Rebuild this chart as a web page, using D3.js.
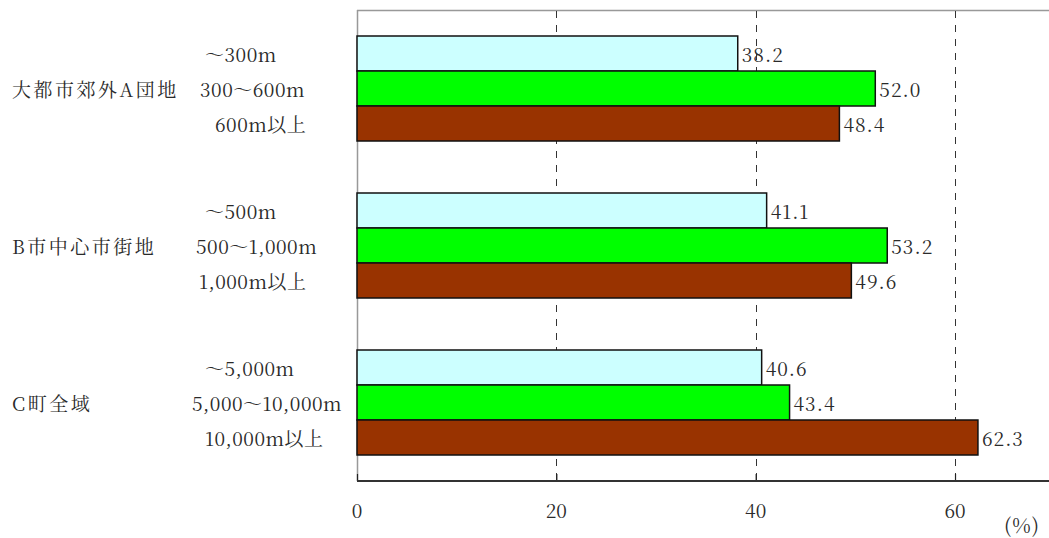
<!DOCTYPE html>
<html lang="ja">
<head>
<meta charset="utf-8">
<script src="https://cdn.jsdelivr.net/npm/d3@7"></script>
<style>
  html, body { margin: 0; padding: 0; background: #fff; }
  svg { display: block; }
</style>
</head>
<body>
<svg id="chart" width="1049" height="538"></svg>
<script>
// Regions surveyed
const groups = ["大都市郊外A団地", "B市中心市街地", "C町全域"];

// Distance bands within each region (near / middle / far)
const bandLabels = [
  ["～300m", "300～600m", "600m以上"],
  ["～500m", "500～1,000m", "1,000m以上"],
  ["～5,000m", "5,000～10,000m", "10,000m以上"]
];

// Series values (%), one array per distance band
const nearValues = [38.2, 41.1, 40.6];
const midValues = [52.0, 53.2, 43.4];
const farValues = [48.4, 49.6, 62.3];

const xTicks = [0, 20, 40, 60];
const unitLabel = "(%)";

// Layout
const width = 1049, height = 538;
const plot = { left: 357, top: 10, bottom: 481 };
const seriesColors = ["#ccffff", "#00ff00", "#993300"];
const FONT = "'Noto Serif CJK JP', 'Liberation Serif', serif";
// left edge of each distance label, per region
const bandLabelX = [[205, 200, 215], [205, 196, 199], [205, 192, 205]];

const series = [nearValues, midValues, farValues];

const svg = d3.select("#chart");

const x = d3.scaleLinear().domain([0, 70]).range([plot.left, plot.left + 70 * 9.967]);

const y = d3.scaleBand().domain(groups).range([plot.top, plot.bottom]).padding(0);
const inner = d3.scaleBand().domain([0, 1, 2])
  .range([26, y.bandwidth() - 26]).padding(0);

function styleText(sel, size, spacing) {
  return sel.style("font-family", FONT)
    .style("font-size", size + "px")
    .style("letter-spacing", spacing + "px")
    .attr("fill", "#2a2a2a");
}

// Frame: top and left edges
svg.append("line")
  .attr("x1", plot.left).attr("x2", width)
  .attr("y1", plot.top + 0.5).attr("y2", plot.top + 0.5)
  .attr("stroke", "#999").attr("stroke-width", 1.5);
svg.append("line")
  .attr("x1", plot.left + 0.5).attr("x2", plot.left + 0.5)
  .attr("y1", plot.top).attr("y2", plot.bottom)
  .attr("stroke", "#999").attr("stroke-width", 1.5);

// Value labels beside each bar
groups.forEach((g, gi) => {
  series.forEach((vals, si) => {
    svg.append("text")
      .call(styleText, 19, 1)
      .attr("x", x(vals[gi]) + 4)
      .attr("y", y(g) + inner(si) + inner.bandwidth() / 2)
      .attr("dominant-baseline", "central")
      .text(vals[gi].toFixed(1));
  });
});

// Dashed gridlines
svg.append("g")
  .selectAll("line")
  .data(xTicks.filter(d => d > 0))
  .join("line")
  .attr("x1", d => Math.round(x(d)) + 0.5).attr("x2", d => Math.round(x(d)) + 0.5)
  .attr("y1", plot.top).attr("y2", plot.bottom)
  .attr("stroke", "#333").attr("stroke-width", 1)
  .attr("stroke-dasharray", "7,7")
  .attr("stroke-dashoffset", -1);

// Bars
groups.forEach((g, gi) => {
  series.forEach((vals, si) => {
    svg.append("rect")
      .attr("x", x(0))
      .attr("y", y(g) + inner(si))
      .attr("width", x(vals[gi]) - x(0))
      .attr("height", inner.bandwidth())
      .attr("fill", seriesColors[si])
      .attr("stroke", "#111")
      .attr("stroke-width", 1.5);
  });
});

// Bottom axis with inward ticks
const axis = d3.axisBottom(x).tickValues(xTicks).tickSize(-7).tickPadding(0).tickFormat("");
const ax = svg.append("g").attr("transform", `translate(0,${plot.bottom})`).call(axis);
ax.select(".domain").remove();
ax.selectAll(".tick line").attr("stroke", "#222").attr("stroke-width", 1.2);
svg.append("line")
  .attr("x1", plot.left).attr("x2", width)
  .attr("y1", plot.bottom).attr("y2", plot.bottom)
  .attr("stroke", "#333").attr("stroke-width", 2);

// Tick labels
svg.append("g")
  .selectAll("text")
  .data(xTicks)
  .join("text")
  .call(styleText, 19, 0)
  .attr("x", d => x(d))
  .attr("y", 509)
  .attr("text-anchor", "middle")
  .attr("dominant-baseline", "central")
  .text(d => d);

svg.append("text")
  .call(styleText, 20, 1)
  .attr("x", 1004).attr("y", 524)
  .attr("dominant-baseline", "central")
  .text(unitLabel);

// Region names
svg.append("g")
  .selectAll("text")
  .data(groups)
  .join("text")
  .call(styleText, 19, 2.5)
  .attr("x", 12)
  .attr("y", d => y(d) + inner(1) + inner.bandwidth() / 2)
  .attr("dominant-baseline", "central")
  .text(d => d);

// Distance band names
groups.forEach((g, gi) => {
  bandLabels[gi].forEach((lab, si) => {
    svg.append("text")
      .call(styleText, 19, 0.5)
      .attr("x", bandLabelX[gi][si])
      .attr("y", y(g) + inner(si) + inner.bandwidth() / 2)
      .attr("dominant-baseline", "central")
      .text(lab);
  });
});
</script>
</body>
</html>
